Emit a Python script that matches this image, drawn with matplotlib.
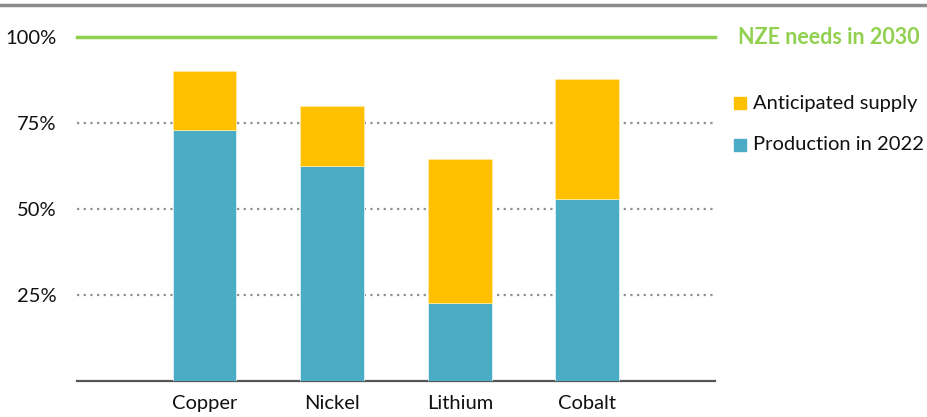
import matplotlib
matplotlib.use("Agg")
import matplotlib.pyplot as plt
from matplotlib.lines import Line2D
from matplotlib.patches import Rectangle

categories = ["Copper", "Nickel", "Lithium", "Cobalt"]
production_2022 = [0.73, 0.625, 0.227, 0.529]
anticipated_supply = [0.17, 0.175, 0.418, 0.349]
nze_need = 1.0
yticks = [0.25, 0.50, 0.75, 1.00]
ytick_labels = ["25%", "50%", "75%", "100%"]

plt.rcParams['font.family'] = ['Lato', 'DejaVu Sans']

fig = plt.figure(figsize=(9.28, 4.17), dpi=100)
W, H = 928, 417
ax = fig.add_axes([77 / W, 1 - 381 / H, (715 - 77) / W, (381 - 37) / H * 1.0])

blue = "#4BACC6"
yellow = "#FFC000"
green = "#92D050"

x = list(range(len(categories)))
ax.bar(x, production_2022, width=0.5, color=blue, edgecolor="#dff0f5", linewidth=0.6, zorder=3)
ax.bar(x, anticipated_supply, bottom=production_2022, width=0.5, color=yellow,
       edgecolor="#ffe9a0", linewidth=0.6, zorder=3)

ax.set_xlim(-1, 4)
ax.set_ylim(0, 1.0)
ax.set_yticks(yticks)
ax.set_yticklabels(ytick_labels)
ax.set_xticks(x)
ax.set_xticklabels(categories)

for yv in yticks:
    ax.axhline(yv, color="#8f8f8f", linestyle=(0, (1, 2.0)), linewidth=1.6, zorder=1)
ax.axhline(nze_need, color=green, linewidth=2.5, zorder=4, clip_on=False)

for s in ["top", "right", "left"]:
    ax.spines[s].set_visible(False)
ax.spines["bottom"].set_color("#555555")
ax.spines["bottom"].set_linewidth(1.6)
ax.tick_params(axis="both", length=0, labelsize=14.5, colors="#111111")
ax.tick_params(axis="y", pad=14.5)
ax.tick_params(axis="x", pad=10)

# top rule across figure
fig.add_artist(Line2D([0, 1], [1 - 5 / H, 1 - 5 / H], color="#8c8c8c", linewidth=2.5,
                      transform=fig.transFigure))

fig.text(738 / W, 1 - 37 / H, "NZE needs in 2030", color=green, fontsize=15.5,
         fontweight="bold", va="center", ha="left")

for ypix, col, label in [(103, yellow, "Anticipated supply"), (145, blue, "Production in 2022")]:
    fig.add_artist(Rectangle((734 / W, 1 - (ypix + 6) / H), 12 / W, 12 / H, color=col,
                             transform=fig.transFigure))
    fig.text(753 / W, 1 - ypix / H, label, color="#111111", fontsize=14.5, va="center", ha="left")

fig.savefig("out.png", dpi=100)
